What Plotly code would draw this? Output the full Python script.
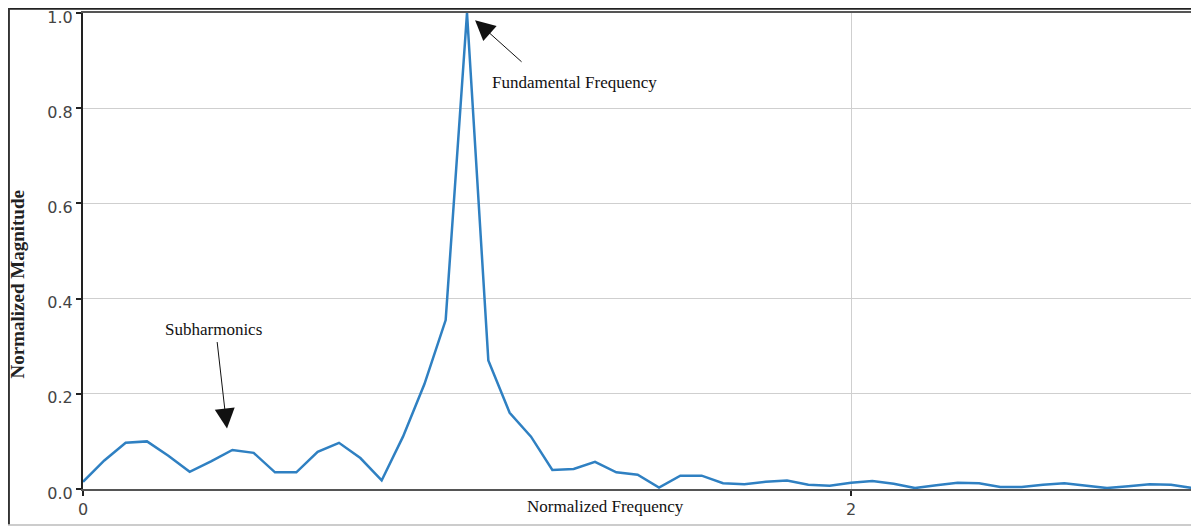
import plotly.graph_objects as go

# Data (normalized frequency step = 1/18)
step = 1.0 / 18.0
magnitude = [0.015, 0.060, 0.097, 0.100, 0.070, 0.036, 0.058, 0.082, 0.076, 0.035,
             0.035, 0.078, 0.097, 0.065, 0.018, 0.110, 0.220, 0.355, 1.000, 0.270,
             0.160, 0.110, 0.040, 0.042, 0.057, 0.035, 0.030, 0.003, 0.028, 0.028,
             0.012, 0.010, 0.015, 0.018, 0.009, 0.007, 0.013, 0.017, 0.011, 0.002,
             0.008, 0.013, 0.012, 0.004, 0.004, 0.009, 0.012, 0.007, 0.002, 0.006,
             0.010, 0.009, 0.002]
frequency = [i * step for i in range(len(magnitude))]

x_ticks = [0, 2]
x_tick_labels = ["0", "2"]
y_ticks = [0.0, 0.2, 0.4, 0.6, 0.8, 1.0]
y_tick_labels = ["0.0", "0.2", "0.4", "0.6", "0.8", "1.0"]

fig = go.Figure()
fig.add_trace(go.Scatter(x=frequency, y=magnitude, mode="lines",
                         line=dict(color="#2f80c2", width=2.5),
                         showlegend=False, hoverinfo="skip"))

serif = "Liberation Serif, Times New Roman, serif"

fig.update_layout(
    width=1191, height=520,
    margin=dict(l=75, r=2, t=5, b=39),
    paper_bgcolor="white", plot_bgcolor="white",
    xaxis=dict(range=[0, 2.901], tickvals=x_ticks, ticktext=x_tick_labels,
               automargin=False,
               showgrid=True, gridcolor="#cfcfcf", gridwidth=1,
               zeroline=False, showline=True, linecolor="#555", linewidth=2,
               mirror=True,
               ticks="outside", ticklen=5, tickcolor="#222", tickwidth=1.5,
               ticklabelstandoff=0, ticklabeloverflow="allow",
               tickfont=dict(family="DejaVu Sans", size=16, color="#444")),
    yaxis=dict(range=[0, 1.0], tickvals=y_ticks, ticktext=y_tick_labels,
               automargin=False,
               showgrid=True, gridcolor="#cfcfcf", gridwidth=1,
               zeroline=False, showline=True, linecolor="#222", linewidth=2,
               ticks="outside", ticklen=5, tickcolor="#222", tickwidth=1.5,
               ticklabeloverflow="allow", ticklabelshift=4,
               tickfont=dict(family="DejaVu Sans", size=16, color="#444")),
)

# Axis titles as annotations (placed like the reference)
fig.add_annotation(x=0.4686, y=-0.0378, xref="paper", yref="paper",
                   text="Normalized Frequency", showarrow=False,
                   xanchor="center", yanchor="middle",
                   font=dict(family=serif, size=17, color="#111"))
fig.add_annotation(x=-0.0588, y=0.4307, xref="paper", yref="paper",
                   text="<b>Normalized Magnitude</b>", showarrow=False, textangle=-90,
                   xanchor="center", yanchor="middle",
                   font=dict(family=serif, size=19, color="#222"))

# Annotations: text labels
fig.add_annotation(x=1.28, y=0.853, xref="x", yref="y", text="Fundamental Frequency",
                   showarrow=False, font=dict(family=serif, size=17, color="#111"))
fig.add_annotation(x=0.34, y=0.336, xref="x", yref="y", text="Subharmonics",
                   showarrow=False, font=dict(family=serif, size=17, color="#111"))

# Arrows (text-less annotations)
fig.add_annotation(x=1.021, y=0.985, xref="x", yref="y", ax=48, ay=43,
                   text="", showarrow=True, arrowhead=2, arrowsize=4,
                   arrowwidth=1, arrowcolor="#111")
fig.add_annotation(x=0.375, y=0.127, xref="x", yref="y", ax=-10, ay=-88,
                   text="", showarrow=True, arrowhead=2, arrowsize=4,
                   arrowwidth=1, arrowcolor="#111")

# Outer frame of the picture
fig.add_shape(type="line", xref="paper", yref="paper", x0=-0.0673, x1=1.01,
              y0=1.0095, y1=1.0095, line=dict(color="#222", width=2.5))
fig.add_shape(type="line", xref="paper", yref="paper", x0=-0.0665, x1=-0.0665,
              y0=1.0105, y1=-0.075, line=dict(color="#333", width=2))
fig.add_shape(type="line", xref="paper", yref="paper", x0=-0.0673, x1=1.01,
              y0=-0.0756, y1=-0.0756, line=dict(color="#bbb", width=1.5))

fig.write_html("out.html")
